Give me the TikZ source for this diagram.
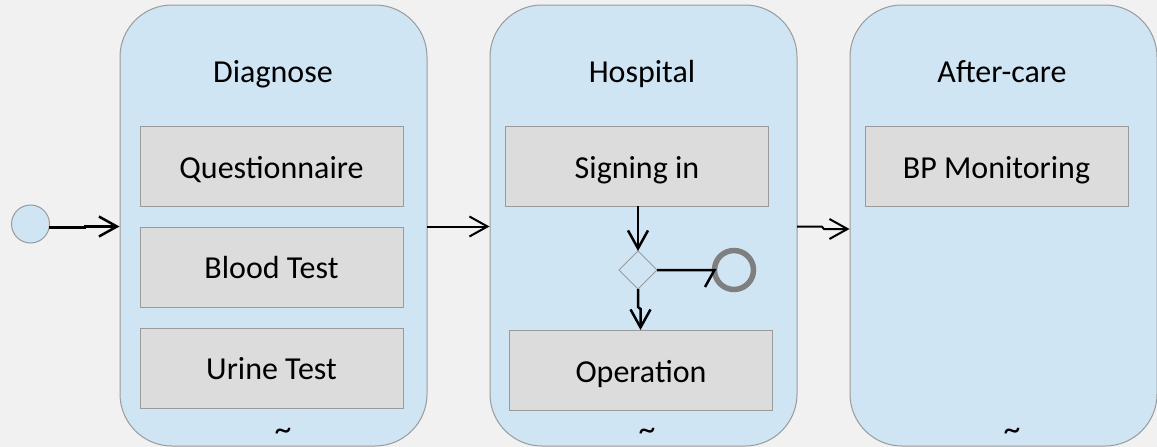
\documentclass[tikz,border=0pt]{standalone}
\usepackage{fontspec}
\setmainfont{Carlito}
\usetikzlibrary{arrows.meta,shapes.geometric}
\definecolor{pagebg}{HTML}{F1F1F1}
\definecolor{panelblue}{HTML}{CFE5F4}
\definecolor{boxgrey}{HTML}{DCDCDC}
\definecolor{edgegrey}{HTML}{9A9A9A}
\definecolor{ringgrey}{HTML}{7F7F7F}
\tikzset{
  lane/.style={draw=edgegrey,fill=panelblue,line width=1pt,rounded corners=52pt,minimum width=307pt,minimum height=441pt,inner sep=0pt,outer sep=0pt},
  task/.style={draw=edgegrey,fill=boxgrey,line width=1pt,minimum width=263pt,minimum height=80pt,inner sep=0pt,outer sep=0pt},
  label/.style={anchor=base,font=\fontsize{32}{38}\selectfont,text=black,inner sep=0pt},
  squiggle/.style={anchor=center,font=\fontsize{26}{28}\selectfont,inner sep=0pt},
  flow/.style={draw=black,line width=2.5pt,-{Straight Barb[length=18pt,width=20pt,line width=2.5pt]},line join=miter},
  thinflow/.style={flow,line width=2pt,-{Straight Barb[length=18pt,width=20pt,line width=2pt]}}
}
\begin{document}
\begin{tikzpicture}[x=1pt,y=-1pt]
\useasboundingbox (0,0) rectangle (1157,447);
\fill[pagebg] (0,0) rectangle (1157,447);
\node[lane] (diag) at (273.5,225.5) {};
\node[lane] (hosp) at (643.5,225.5) {};
\node[lane] (after) at (1003.5,225.5) {};
\node[task] (q) at (271.5,166) {};
\node[task] (b) at (271.5,267) {};
\node[task] (u) at (271.5,368) {};
\node[task] (s) at (637,166) {};
\node[task] (o) at (641,370) {};
\node[task] (bp) at (996.5,166) {};
\node[label] (tdiag) at (273,82) {Diagnose};
\node[label] (thosp) at (642,82) {Hospital};
\node[label] (tafter) at (1002,82) {After-care};
\node[label] (lq) at (271.5,178) {Questionnaire};
\node[label] (lb) at (271.5,278) {Blood Test};
\node[label] (lu) at (271.5,379) {Urine Test};
\node[label] (ls) at (637,178) {Signing in};
\node[label] (lo) at (641,382) {Operation};
\node[label] (lbp) at (996.5,178) {BP Monitoring};
\node[squiggle] (t1) at (283,434) {\scalebox{1.3}{\textasciitilde}};
\node[squiggle] (t2) at (647,434) {\scalebox{1.3}{\textasciitilde}};
\node[squiggle] (t3) at (1012,434.5) {\scalebox{1.3}{\textasciitilde}};
\node[circle,draw=edgegrey,fill=panelblue,line width=1pt,minimum size=38pt,inner sep=0pt,outer sep=0pt] (start) at (30.5,224) {};
\node[diamond,draw=edgegrey,fill=panelblue,line width=1pt,minimum size=38pt,inner sep=0pt,outer sep=0pt] (dec) at (638,270) {};
\node[circle,draw=ringgrey,line width=5.5pt,minimum size=39pt,inner sep=0pt,outer sep=0pt] (end) at (734,270) {};
\coordinate (j1a) at (85,227.5);
\coordinate (j1b) at (85,226.5);
\coordinate (j3a) at (822,226.7);
\coordinate (j3b) at (824,229);
\coordinate (j4a) at (638,307);
\coordinate (j4b) at (640.5,309);
\coordinate (barb) at (705,287);
\coordinate (tipend) at (714.5,270);
\coordinate (s0) at (49,227.5);
\coordinate (d0) at (427,226.5);
\coordinate (h0) at (797,226.7);
\coordinate (a1) at (119.5,226.5);
\coordinate (a2) at (489.5,226.5);
\coordinate (a3) at (849.5,229);
\draw[flow] (s0) -- (j1a) -- (j1b) -- (a1);
\draw[thinflow] (d0) -- (a2);
\draw[thinflow] (h0) -- (j3a) -- (j3b) -- (a3);
\draw[flow] (s.south -| dec.north) -- (dec.north);
\draw[flow] (dec.south) -- (j4a) -- (j4b) -- (o.north -| j4b);
\draw[draw=black,line width=2.5pt] (dec.east) -- (tipend) -- (barb);
\end{tikzpicture}
\end{document}
